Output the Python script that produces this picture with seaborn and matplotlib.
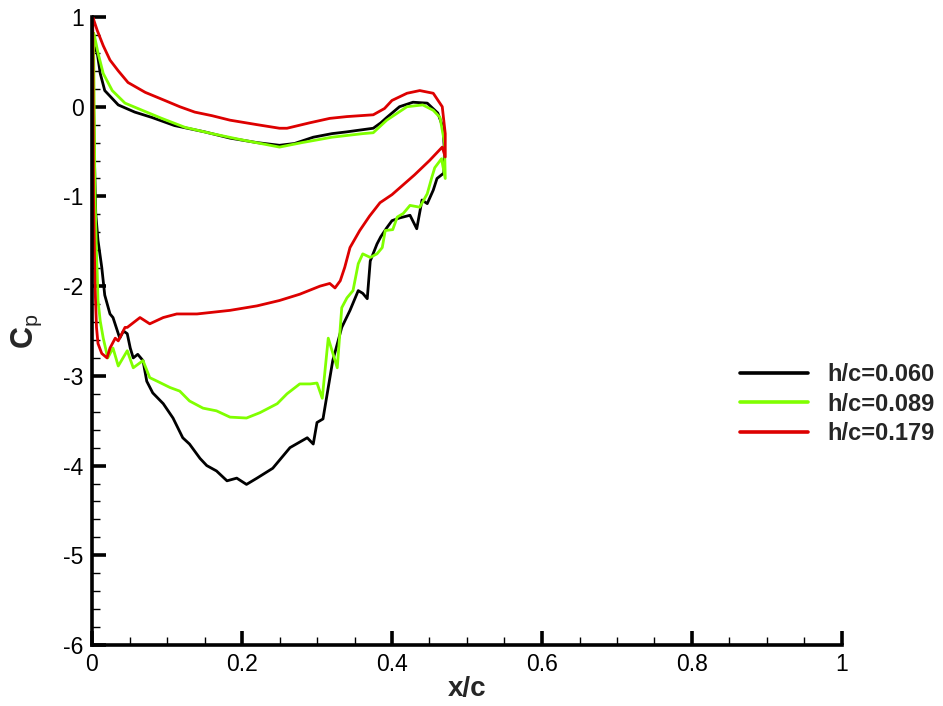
import numpy as np
import pandas as pd
import matplotlib
matplotlib.use("Agg")
import matplotlib.pyplot as plt
import seaborn as sns
from matplotlib.ticker import MultipleLocator

labels = ["h/c=0.060", "h/c=0.089", "h/c=0.179"]
colors = ["#000000", "#80ff00", "#dd0000"]

x_060 = [0.001, 0.007, 0.011, 0.017, 0.035, 0.057, 0.08, 0.11, 0.15, 0.184, 0.22, 0.25, 0.27, 0.295, 0.32,
         0.34, 0.375, 0.385, 0.393, 0.41, 0.428, 0.447, 0.461, 0.468, 0.470, 0.469,
         0.46, 0.455, 0.447, 0.44, 0.433, 0.424, 0.41, 0.40, 0.393, 0.385, 0.38, 0.371, 0.367, 0.361,
         0.355, 0.344, 0.333, 0.321, 0.315, 0.308, 0.30, 0.295, 0.287, 0.264, 0.241, 0.22, 0.206,
         0.193, 0.18, 0.166, 0.153, 0.144, 0.13, 0.121, 0.108, 0.095, 0.081, 0.073, 0.068, 0.061,
         0.055, 0.051, 0.047, 0.042, 0.037, 0.028, 0.024, 0.017, 0.013, 0.008, 0.005, 0.003, 0.001]
cp_060 = [0.70, 0.60, 0.37, 0.18, 0.02, -0.06, -0.12, -0.21, -0.28, -0.35, -0.40, -0.43, -0.41, -0.34, -0.30,
          -0.28, -0.24, -0.18, -0.12, 0.0, 0.05, 0.04, -0.07, -0.23, -0.50, -0.74,
          -0.80, -0.93, -1.08, -1.04, -1.36, -1.21, -1.24, -1.27, -1.35, -1.45, -1.53, -1.72, -2.14, -2.08,
          -2.05, -2.27, -2.46, -2.83, -3.13, -3.48, -3.52, -3.76, -3.69, -3.80, -4.03, -4.14, -4.21,
          -4.14, -4.17, -4.06, -4.00, -3.92, -3.76, -3.69, -3.47, -3.31, -3.19, -3.06, -2.83, -2.76,
          -2.80, -2.69, -2.53, -2.50, -2.58, -2.35, -2.31, -2.10, -1.79, -1.49, -1.19, -0.50, 0.70]

x_089 = [0.002, 0.003, 0.008, 0.015, 0.027, 0.044, 0.067, 0.093, 0.124, 0.16, 0.20, 0.25, 0.28, 0.32,
         0.361, 0.375, 0.393, 0.42, 0.441, 0.455, 0.464, 0.470, 0.471,
         0.466, 0.457, 0.453, 0.447, 0.437, 0.424, 0.415, 0.407, 0.401, 0.391, 0.387, 0.38, 0.371,
         0.361, 0.355, 0.348, 0.34, 0.333, 0.327, 0.315, 0.307, 0.30, 0.291, 0.277, 0.26, 0.247,
         0.224, 0.206, 0.184, 0.166, 0.148, 0.13, 0.117, 0.104, 0.087, 0.077, 0.068, 0.055, 0.047,
         0.035, 0.028, 0.021, 0.015, 0.011, 0.008, 0.007, 0.006, 0.004, 0.002]
cp_089 = [0.82, 0.80, 0.60, 0.37, 0.18, 0.04, -0.04, -0.13, -0.23, -0.30, -0.37, -0.45, -0.40, -0.34,
          -0.30, -0.29, -0.15, 0.0, 0.02, -0.04, -0.12, -0.40, -0.80,
          -0.58, -0.68, -0.79, -0.97, -1.12, -1.10, -1.19, -1.23, -1.37, -1.38, -1.57, -1.64, -1.68,
          -1.64, -1.75, -2.05, -2.13, -2.24, -2.91, -2.58, -3.25, -3.08, -3.09, -3.09, -3.20, -3.31,
          -3.41, -3.47, -3.46, -3.39, -3.36, -3.28, -3.17, -3.13, -3.06, -3.02, -2.83, -2.91, -2.72,
          -2.89, -2.69, -2.80, -2.58, -2.39, -2.16, -1.86, -1.64, -1.00, 0.82]

x_179 = [0.001, 0.007, 0.015, 0.024, 0.035, 0.048, 0.071, 0.097, 0.117, 0.137, 0.16, 0.184, 0.22, 0.25,
         0.26, 0.29, 0.317, 0.34, 0.375, 0.39, 0.40, 0.42, 0.437, 0.455, 0.467, 0.471, 0.471,
         0.467, 0.45, 0.43, 0.40, 0.384, 0.37, 0.357, 0.344, 0.337, 0.331, 0.324, 0.317, 0.304, 0.277,
         0.25, 0.22, 0.184, 0.14, 0.113, 0.095, 0.077, 0.064, 0.047, 0.044, 0.035, 0.031, 0.024, 0.02,
         0.013, 0.008, 0.006, 0.004, 0.002, 0.001]
cp_179 = [1.00, 0.85, 0.68, 0.52, 0.40, 0.27, 0.16, 0.07, 0.0, -0.06, -0.10, -0.15, -0.20, -0.24,
          -0.24, -0.18, -0.13, -0.11, -0.09, -0.02, 0.07, 0.15, 0.18, 0.15, 0.0, -0.30, -0.56,
          -0.45, -0.60, -0.76, -0.98, -1.07, -1.22, -1.38, -1.57, -1.79, -1.94, -2.02, -1.97, -2.00, -2.09,
          -2.16, -2.22, -2.27, -2.31, -2.31, -2.35, -2.42, -2.35, -2.46, -2.46, -2.61, -2.58, -2.69, -2.80,
          -2.75, -2.64, -2.46, -2.00, -1.00, 1.00]

xs = [x_060, x_089, x_179]
cps = [cp_060, cp_089, cp_179]

frames = []
for lab, xv, cv in zip(labels, xs, cps):
    frames.append(pd.DataFrame({"x": xv, "cp": cv, "case": lab}))
df = pd.concat(frames, ignore_index=True)

sns.set_style("ticks")
plt.rcParams["font.family"] = ["Liberation Sans", "DejaVu Sans"]
plt.rcParams["mathtext.fontset"] = "custom"
plt.rcParams["mathtext.rm"] = "Liberation Sans"
plt.rcParams["mathtext.bf"] = "Liberation Sans:bold"

fig = plt.figure(figsize=(9.43, 7.06), dpi=100)
ax = fig.add_axes([92 / 943, 1 - 645 / 706, 750 / 943, 628 / 706])

sns.lineplot(data=df, x="x", y="cp", hue="case", hue_order=labels, palette=colors,
             sort=False, estimator=None, units="case", linewidth=2.0, ax=ax)

ax.set_xlim(0, 1)
ax.set_ylim(-6, 1)
ax.set_xticks([0, 0.2, 0.4, 0.6, 0.8, 1.0])
ax.set_xticklabels(["0", "0.2", "0.4", "0.6", "0.8", "1"])
ax.set_yticks([-6, -5, -4, -3, -2, -1, 0, 1])
ax.set_yticklabels(["-6", "-5", "-4", "-3", "-2", "-1", "0", "1"])
ax.xaxis.set_minor_locator(MultipleLocator(0.05))
ax.yaxis.set_minor_locator(MultipleLocator(0.2))

for s in ["top", "right"]:
    ax.spines[s].set_visible(False)
for s in ["left", "bottom"]:
    ax.spines[s].set_linewidth(2.6)
    ax.spines[s].set_color("black")

ax.tick_params(which="major", direction="in", length=10, width=2.6, labelsize=16.5, pad=6, colors="black")
ax.tick_params(which="minor", direction="in", length=6, width=1.0, colors="black")

ax.set_xlabel("x/c", fontsize=20, fontweight="bold", labelpad=0)
ax.set_ylabel(r"$\mathbf{C}_{\mathrm{p}}$", fontsize=22, labelpad=14)

leg = ax.legend(loc="upper left", bbox_to_anchor=(0.864, 0.449), frameon=False,
                fontsize=17, handlelength=2.9, handletextpad=0.8, labelspacing=0.28,
                borderpad=0, borderaxespad=0)
for t in leg.get_texts():
    t.set_fontweight("bold")
for h in leg.get_lines():
    h.set_linewidth(2.6)

fig.savefig("out.png", dpi=100)
